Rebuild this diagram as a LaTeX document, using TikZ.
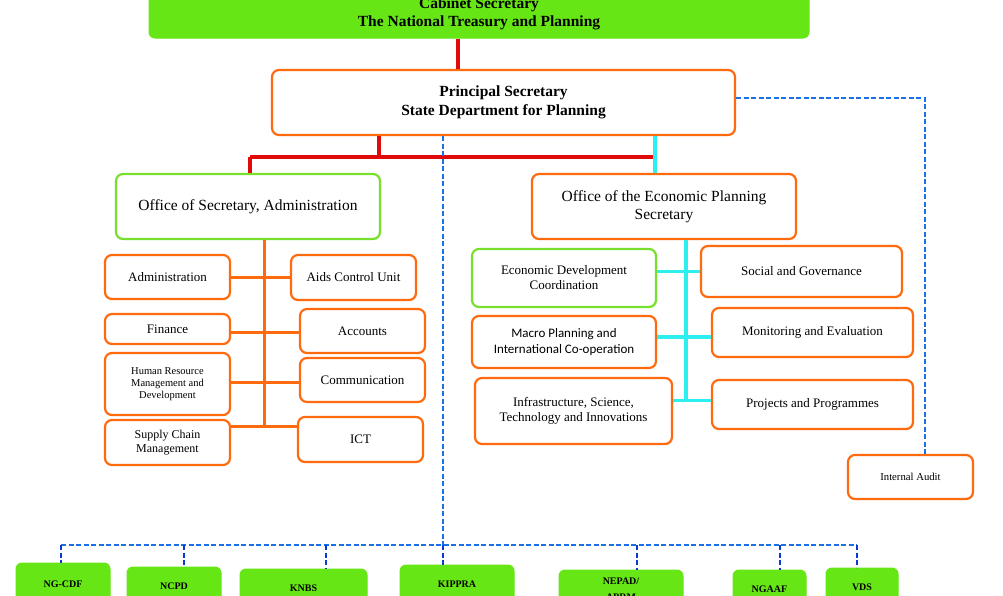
\documentclass[tikz,border=0pt]{standalone}
\usepackage{fontspec}
\setmainfont{Liberation Serif}
\newfontfamily\calib{Carlito}
\usetikzlibrary{calc}
\definecolor{gfillc}{HTML}{66E614}
\definecolor{glinec}{HTML}{78E02C}
\definecolor{orc}{HTML}{FF6A0E}
\definecolor{redc}{HTML}{E00A0A}
\definecolor{cyc}{HTML}{2EEFF0}
\definecolor{blc}{HTML}{1A70E6}
\definecolor{bldc}{HTML}{0A3AD0}
\newcommand{\fs}[2]{\fontsize{#1}{#2}\selectfont}
\begin{document}
\begin{tikzpicture}[x=1pt,y=-1pt,
  obox/.style={draw=orc, line width=2.2pt, rounded corners=7pt, fill=white, align=center, inner sep=0pt, font=\fs{13}{15}},
  gbox/.style={obox, draw=glinec},
  fbox/.style={draw=gfillc, fill=gfillc, line width=1pt, rounded corners=6pt, align=center, inner sep=0pt, font=\bfseries\fs{10}{16}},
  redl/.style={draw=redc, line width=3.2pt},
  orl/.style={draw=orc, line width=3pt},
  cyl/.style={draw=cyc, line width=3.2pt},
  bll/.style={draw=blc, line width=2.2pt, dash pattern=on 5pt off 2.5pt},
  dropl/.style={draw=bldc, line width=2.8pt, dash pattern=on 5pt off 2.5pt}]
\fill[white] (0,0) rectangle (1003,595);
\useasboundingbox (0,0) rectangle (1003,595);

% top
\node[fbox, minimum width=660pt, minimum height=49pt, font=\bfseries\fs{15.5}{18}] (cab) at (479,13.5) {Cabinet Secretary\\The National Treasury and Planning};
\node[obox, minimum width=463pt, minimum height=65pt, font=\bfseries\fs{15.5}{19}] (ps) at (503.5,102.5) {Principal Secretary\\State Department for Planning};
\node[gbox, minimum width=264pt, minimum height=65pt, font=\fs{15.5}{18}] (osa) at (248,206.5) {Office of Secretary, Administration};
\node[obox, minimum width=264pt, minimum height=65pt, font=\fs{15.5}{18}] (oep) at (664,206.5) {Office of the Economic Planning\\Secretary};

% left column
\node[obox, minimum width=125pt, minimum height=44pt] (adm) at (167.5,277) {Administration};
\node[obox, minimum width=125pt, minimum height=45pt] (aids) at (353.5,277.5) {Aids Control Unit};
\node[obox, minimum width=125pt, minimum height=30pt] (fin) at (167.5,329) {Finance};
\node[obox, minimum width=125pt, minimum height=44pt] (acc) at (362.5,331) {Accounts};
\node[obox, minimum width=125pt, minimum height=62pt, font=\fs{10.5}{12}] (hr) at (167.5,384) {Human Resource\\Management and\\Development};
\node[obox, minimum width=125pt, minimum height=44pt] (com) at (362.5,380) {Communication};
\node[obox, minimum width=125pt, minimum height=45pt, font=\fs{12}{14}] (scm) at (167.5,442.5) {Supply Chain\\Management};
\node[obox, minimum width=125pt, minimum height=45pt] (ict) at (360.5,439.5) {ICT};

% right column
\node[gbox, minimum width=184pt, minimum height=58pt, font=\fs{13}{15}] (edc) at (564,278) {Economic Development\\Coordination};
\node[obox, minimum width=201pt, minimum height=51pt, font=\fs{13}{15}] (sg) at (801.5,271.5) {Social and Governance};
\node[obox, minimum width=184pt, minimum height=52pt, font=\calib\fs{13}{16}] (mp) at (564,342) {Macro Planning and\\International Co-operation};
\node[obox, minimum width=201pt, minimum height=49pt, font=\fs{13}{15}] (me) at (812.5,332.5) {Monitoring and Evaluation};
\node[obox, minimum width=197pt, minimum height=66pt, font=\fs{13}{15}] (ist) at (573.5,411) {Infrastructure, Science,\\Technology and Innovations};
\node[obox, minimum width=201pt, minimum height=49pt, font=\fs{13}{15}] (pp) at (812.5,404.5) {Projects and Programmes};
\node[obox, minimum width=125pt, minimum height=44pt, font=\fs{10.7}{12}] (ia) at (910.5,477) {Internal Audit};

% bottom agencies
\node[fbox, minimum width=94pt, minimum height=42pt] (ngcdf) at (63,584) {NG-CDF};
\node[fbox, minimum width=94pt, minimum height=38pt] (ncpd) at (174,586) {NCPD};
\node[fbox, minimum width=127pt, minimum height=38pt] (knbs) at (303.5,588) {KNBS};
\node[fbox, minimum width=114pt, minimum height=38pt] (kippra) at (457,584) {KIPPRA};
\node[fbox, minimum width=124pt, minimum height=38pt] (nepad) at (621,589) {NEPAD/\\APRM};
\node[fbox, minimum width=73pt, minimum height=38pt] (ngaaf) at (769.5,589) {NGAAF};
\node[fbox, minimum width=72pt, minimum height=38pt] (vds) at (862,587) {VDS};

% helper coordinates
\path (458,0) coordinate (xa) (379,0) coordinate (xb) (250,0) coordinate (xc)
      (655,0) coordinate (xd) (443,0) coordinate (xe) (264,0) coordinate (xl)
      (686,0) coordinate (xr) (925,0) coordinate (xf);
\coordinate (jA) at (379,157);
\coordinate (jL) at (250,157);
\coordinate (jR) at (655,157);
\coordinate (busL) at (61,545);
\coordinate (busR) at (857,545);
\coordinate (b2) at (184,545);
\coordinate (b3) at (326,545);
\coordinate (b4) at (443,545);
\coordinate (b5) at (637,545);
\coordinate (b6) at (780,545);

% red connectors
\draw[redl] (xa |- cab.south) -- (xa |- ps.north);
\draw[redl] (xb |- ps.south) -- (jA);
\draw[redl] (jL) -- (jR);
\draw[redl] (jL) -- (xc |- osa.north);
\draw[cyl] (xd |- ps.south) -- (xd |- oep.north);

% left column connectors
\coordinate (lbot) at ($(scm.north east)+(0,8)$);
\draw[orl] (xl |- osa.south) -- (xl |- lbot);
\draw[orl] (adm.east) -- (adm.east -| aids.west);
\draw[orl] ($(fin.east)+(0,3)$) coordinate (fy) -- (fy -| acc.west);
\draw[orl] ($(hr.east)+(0,-2)$) coordinate (hy) -- (hy -| com.west);
\draw[orl] (lbot) -- (lbot -| ict.west);

% right column connectors
\coordinate (rbot) at ($(pp.west)+(0,-4)$);
\draw[cyl] (xr |- oep.south) -- (xr |- rbot);
\draw[cyl] (sg.west -| edc.east) -- (sg.west);
\draw[cyl] ($(mp.east)+(0,-5)$) coordinate (my) -- (my -| me.west);
\draw[cyl] (rbot -| ist.east) -- (rbot);

% blue dashed
\draw[bll] (xe |- ps.south) -- (b4);
\draw[bll] (busL) -- (busR);
\draw[bll] ($(ps.east)+(0,-4.5)$) -| (xf |- ia.north);
\draw[dropl] (busL) -- (busL |- ngcdf.north);
\draw[dropl] (b2) -- (b2 |- ncpd.north);
\draw[dropl] (b3) -- (b3 |- knbs.north);
\draw[dropl] (b4) -- (b4 |- kippra.north);
\draw[dropl] (b5) -- (b5 |- nepad.north);
\draw[dropl] (b6) -- (b6 |- ngaaf.north);
\draw[dropl] (busR) -- (busR |- vds.north);
\end{tikzpicture}
\end{document}
